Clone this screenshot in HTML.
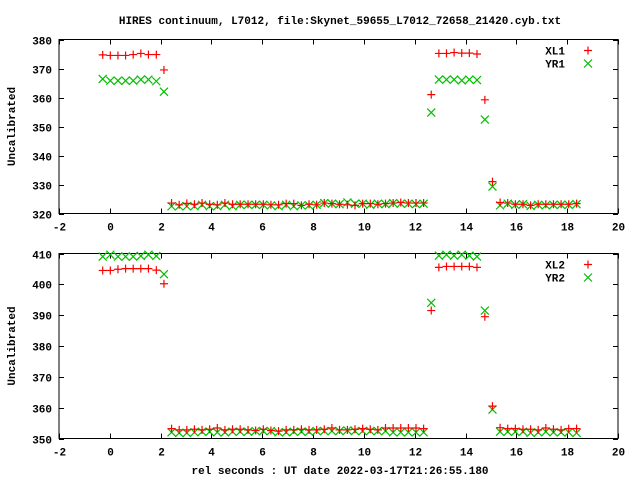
<!DOCTYPE html>
<html><head><meta charset="utf-8"><style>
html,body{margin:0;padding:0;background:#fff;}
svg{display:block;font-family:"Liberation Mono",monospace;font-size:11px;font-weight:bold;}
</style></head><body>
<svg id="chart" width="640" height="480" viewBox="0 0 640 480" xmlns="http://www.w3.org/2000/svg">
<text x="340" y="24" text-anchor="middle">HIRES continuum, L7012, file:Skynet_59655_L7012_72658_21420.cyb.txt</text>
<text x="340" y="474" text-anchor="middle">rel seconds : UT date 2022-03-17T21:26:55.180</text>
<g id="p1"></g>
<g id="p2"></g>
</svg>
<script>
const times = [-0.28,0.02,0.32,0.62,0.92,1.22,1.52,1.83,2.13,2.43,2.73,3.03,3.33,3.63,3.93,4.23,4.53,4.83,5.13,5.44,5.74,6.04,6.34,6.64,6.94,7.24,7.54,7.84,8.14,8.44,8.74,9.04,9.35,9.65,9.95,10.25,10.55,10.85,11.15,11.45,11.75,12.05,12.35,12.65,12.95,13.25,13.55,13.85,14.15,14.45,14.76,15.06,15.36,15.66,15.96,16.26,16.56,16.86,17.16,17.46,17.76,18.06,18.37];
const xl1 = [374.7,374.5,374.5,374.5,374.8,375.2,374.8,374.8,369.5,323.6,323.0,323.5,323.2,323.6,323.2,323.0,323.6,323.2,323.2,323.2,323.2,323.2,323.0,323.0,323.4,323.4,322.8,323.2,323.0,323.6,323.4,323.2,323.0,322.8,323.4,323.4,323.2,323.4,323.6,323.8,323.6,323.6,323.6,361.0,375.2,375.2,375.5,375.3,375.3,375.0,359.2,331.0,323.8,323.6,323.2,323.2,322.8,323.2,323.2,323.2,323.2,323.2,323.4];
const yr1 = [366.4,365.8,365.8,365.8,365.8,366.2,366.2,365.6,362.0,322.5,322.5,322.5,322.5,323.0,322.5,322.5,323.0,322.5,323.0,323.0,323.0,323.0,322.8,322.5,323.0,322.5,322.8,322.8,323.0,323.6,323.4,323.2,323.8,323.4,323.4,323.0,323.4,323.2,323.6,323.4,323.4,323.2,323.4,354.8,366.2,366.2,366.2,365.9,366.2,366.0,352.4,329.3,322.8,323.4,323.0,323.2,322.6,323.0,322.8,323.0,323.0,323.0,323.2];
const xl2 = [404.5,404.5,404.9,405.1,405.1,405.1,405.1,404.6,400.2,353.2,352.8,352.8,353.0,352.8,353.0,353.4,352.8,353.0,353.0,352.8,352.6,353.0,352.6,352.4,352.8,352.8,353.0,352.8,352.8,353.0,353.4,352.8,352.8,353.0,353.2,353.0,352.8,353.4,353.4,353.4,353.4,353.4,353.2,391.5,405.5,405.8,405.8,405.8,405.8,405.5,389.5,360.5,353.5,353.2,353.2,353.0,353.0,352.8,353.4,353.0,352.8,353.2,353.2];
const yr2 = [409.0,409.6,409.0,409.0,409.0,409.2,409.6,409.2,403.3,352.0,351.8,351.8,352.0,352.2,352.2,352.0,352.0,352.2,352.2,352.2,352.4,352.4,352.4,352.0,352.0,352.2,352.2,352.2,352.4,352.4,352.4,352.4,352.6,352.4,352.4,352.4,352.4,352.4,352.0,352.0,352.0,352.0,352.0,394.0,409.3,409.6,409.3,409.6,409.3,409.0,391.5,359.4,352.2,352.2,352.2,352.2,351.8,352.0,352.2,352.0,352.0,352.0,351.8];
const xTicks = [-2,0,2,4,6,8,10,12,14,16,18,20];
const yTicks1 = [320,330,340,350,360,370,380];
const yTicks2 = [350,360,370,380,390,400,410];
const NS='http://www.w3.org/2000/svg';
function mk(tag, parent, attrs){const e=document.createElementNS(NS,tag);for(const k in attrs)e.setAttribute(k,attrs[k]);parent.appendChild(e);return e;}
const X0=59, X1=618;
function xs(v){return X0+(v+2)/22*(X1-X0);}
function panel(g, top, bot, ymin, ymax, yTicks, s1, s2, n1, n2, ylabel){
  const ys=v=>bot-(v-ymin)/(ymax-ymin)*(bot-top);
  const frame=mk('rect',g,{x:X0,y:top,width:X1-X0,height:bot-top,fill:'none',stroke:'#000','stroke-width':1});
  
  
  xTicks.forEach(t=>{
    const x=Math.round(xs(t))+0.5;
    const a=mk('line',g,{x1:x,x2:x,y1:bot,y2:bot-5,stroke:'#000'});
    
    
    const b=mk('line',g,{x1:x,x2:x,y1:top,y2:top+5,stroke:'#000'});
    
    
    const l=mk('text',g,{x:x,y:bot+17,'text-anchor':'middle'});
    l.textContent=t;
    
    
  });
  yTicks.forEach(t=>{
    const y=Math.round(ys(t))+0.5;
    const a=mk('line',g,{x1:X0,x2:X0+5,y1:y,y2:y,stroke:'#000'});
    
    
    const b=mk('line',g,{x1:X1,x2:X1-5,y1:y,y2:y,stroke:'#000'});
    
    
    const l=mk('text',g,{x:52,y:y+4,'text-anchor':'end'});
    l.textContent=t;
    
    
  });
  const yl=mk('text',g,{x:0,y:0,'text-anchor':'middle',transform:`translate(15,${(top+bot)/2}) rotate(-90)`});
  yl.textContent=ylabel;
  
  
  function plus(x,y,name){const p=mk('path',g,{d:`M${x-4} ${y}H${x+4}M${x} ${y-4}V${y+4}`,stroke:'#ff0000','stroke-width':1.2,fill:'none'});}
  function cross(x,y,name){const p=mk('path',g,{d:`M${x-4} ${y-4}L${x+4} ${y+4}M${x-4} ${y+4}L${x+4} ${y-4}`,stroke:'#00c000','stroke-width':1.2,fill:'none'});}
  times.forEach((t,i)=>{cross(xs(t),ys(s2[i]),n2.toLowerCase()+'-point');});
  times.forEach((t,i)=>{plus(xs(t),ys(s1[i]),n1.toLowerCase()+'-point');});
  const t1=mk('text',g,{x:565,y:top+15,'text-anchor':'end'});t1.textContent=n1;
  
  
  plus(588,top+11,'legend-marker');
  const t2=mk('text',g,{x:565,y:top+28,'text-anchor':'end'});t2.textContent=n2;
  
  
  cross(588,top+24,'legend-marker');
}
panel(document.getElementById('p1'),39.5,213.5,320,380,yTicks1,xl1,yr1,'XL1','YR1','Uncalibrated');
panel(document.getElementById('p2'),253.5,438.5,350,410,yTicks2,xl2,yr2,'XL2','YR2','Uncalibrated');
</script>
</body></html>
